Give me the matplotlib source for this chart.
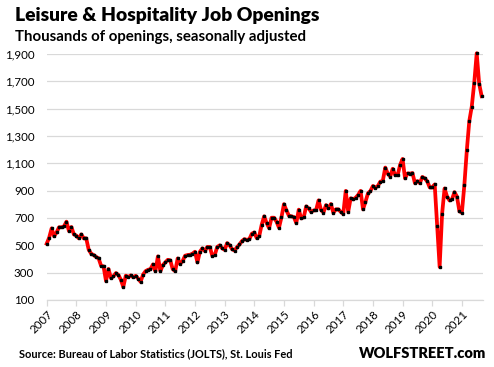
"""
Leisure & Hospitality job openings (JOLTS), monthly, Jan 2007 - Sep 2021.
Recreated in matplotlib.
"""

import numpy as np
import matplotlib as mpl
import matplotlib.pyplot as plt

# ── data (thousands, seasonally adjusted) ────────────────────────────────────
START_YEAR = 2007
openings = [
    # 2007
    512, 556, 624, 566, 595, 632, 632, 639, 673, 605, 634, 580,
    # 2008
    571, 551, 580, 551, 551, 468, 439, 429, 415, 405, 351, 346,
    # 2009
    239, 327, 261, 273, 297, 283, 249, 195, 278, 268, 280, 267,
    # 2010
    277, 257, 233, 286, 311, 321, 326, 360, 311, 419, 311, 355,
    # 2011
    375, 394, 390, 326, 311, 404, 365, 385, 424, 429, 431, 439,
    # 2012
    453, 375, 453, 478, 458, 488, 488, 424, 429, 488, 500, 479,
    # 2013
    467, 516, 501, 472, 462, 486, 506, 531, 545, 540, 545, 585,
    # 2014
    594, 553, 567, 651, 712, 663, 626, 702, 702, 673, 629, 705,
    # 2015
    801, 756, 717, 712, 707, 663, 761, 697, 705, 785, 770, 745,
    # 2016
    755, 757, 829, 760, 740, 794, 770, 802, 738, 763, 763, 745,
    # 2017
    730, 898, 745, 844, 836, 848, 868, 898, 763, 819, 880, 898,
    # 2018
    934, 922, 934, 966, 971, 1069, 1025, 1003, 1060, 1015, 1012, 1088,
    # 2019
    1132, 990, 1026, 1024, 1029, 955, 970, 955, 1000, 990, 967, 923,
    # 2020
    923, 945, 644, 342, 732, 916, 857, 828, 837, 889, 857, 749,
    # 2021
    739, 940, 1196, 1409, 1515, 1689, 1905, 1682, 1591,
]
years = list(range(2007, 2022))
y_ticks = list(range(100, 2000, 200))

months = np.arange(len(openings))
x = START_YEAR + months / 12.0

# ── style ────────────────────────────────────────────────────────────────────
FONT = "Lato"
mpl.rcParams.update({
    "font.family": FONT,
    "figure.facecolor": "white",
    "axes.facecolor": "white",
})

fig = plt.figure(figsize=(4.94, 3.67), dpi=100)
ax = fig.add_axes([0.0945, 0.1826, 0.8835, 0.6704])

ax.plot(x, openings, color="#ff0000", linewidth=2.7, solid_joinstyle="round",
        zorder=3, clip_on=False)
ax.plot(x, openings, linestyle="none", marker="s", markersize=1.7,
        color="black", zorder=4, clip_on=False)

# ── axes ─────────────────────────────────────────────────────────────────────
ax.set_xlim(START_YEAR, START_YEAR + 176.6 / 12)
ax.set_ylim(100, 1900)
ax.set_yticks(y_ticks)
ax.set_yticklabels([f"{v:,}" for v in y_ticks], fontsize=8.3)
ax.yaxis.grid(True, color="#d9d9d9", linewidth=0.9)
ax.set_axisbelow(True)

ax.set_xticks(years)
ax.set_xticklabels([str(yr) for yr in years], rotation=45, ha="right",
                   rotation_mode="anchor", fontsize=8.3)

for s in ("top", "right", "left"):
    ax.spines[s].set_visible(False)
ax.spines["bottom"].set_color("#d9d9d9")
ax.spines["bottom"].set_linewidth(0.9)
ax.tick_params(axis="y", length=0, pad=9)
ax.tick_params(axis="x", length=4, color="#d9d9d9", width=0.9, pad=2)

# ── text ─────────────────────────────────────────────────────────────────────
fig.text(0.03, 0.958, "Leisure & Hospitality Job Openings", fontsize=13.9,
         fontweight="heavy", ha="left", va="center")
fig.text(0.03, 0.900, "Thousands of openings, seasonally adjusted",
         fontsize=10.8, fontweight="bold", ha="left", va="center")
fig.text(0.038, 0.036, "Source: Bureau of Labor Statistics (JOLTS), St. Louis Fed",
         fontsize=7.9, fontweight="bold", ha="left", va="center")
fig.text(0.985, 0.038, "WOLFSTREET.com", fontsize=10.5, fontweight="heavy",
         ha="right", va="center")

fig.savefig("out.png", dpi=100, facecolor="white")
